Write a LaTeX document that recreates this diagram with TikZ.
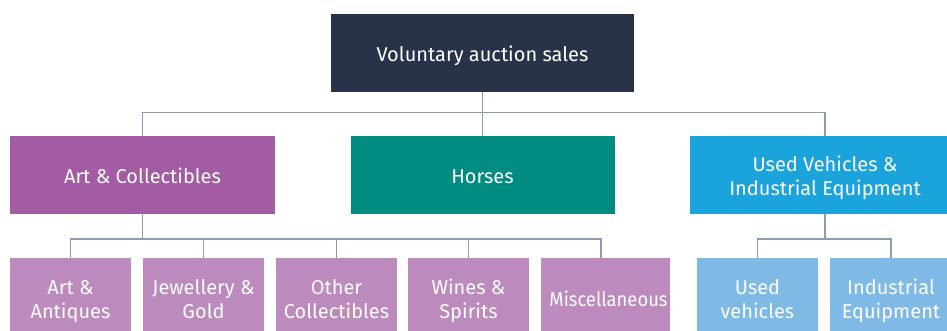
\documentclass[tikz,border=0pt]{standalone}
\usepackage{fontspec}
\usepackage{graphicx}
\setmainfont{Fira Sans}
\definecolor{navy}{HTML}{283249}
\definecolor{artc}{HTML}{A35BA3}
\definecolor{horsec}{HTML}{008C80}
\definecolor{vehc}{HTML}{1BA3DC}
\definecolor{lartc}{HTML}{BD8ABD}
\definecolor{lvehc}{HTML}{7FB9E5}
\definecolor{linec}{HTML}{8D9DB1}
\begin{document}
\begin{tikzpicture}[x=1pt,y=-1pt,
  box/.style={rectangle,inner sep=0pt,text=white,align=center,
    font=\fontsize{20}{24}\selectfont,minimum height=78pt},
  oneline/.style={text height=18pt,text depth=0pt},
  twoline/.style={text height=42pt,text depth=0pt},
  conn/.style={draw=linec,line width=1.5pt}]
\useasboundingbox (0,0) rectangle (947,331);
\clip (0,0) rectangle (947,331);
\node[box,oneline,fill=navy,minimum width=303pt] (top) at (482.5,53) {Voluntary auction sales};
\node[box,oneline,fill=artc,minimum width=265pt] (art) at (142.5,175) {Art \& Collectibles};
\node[box,oneline,fill=horsec,minimum width=264pt] (horses) at (482.5,175) {Horses};
\node[box,twoline,fill=vehc,minimum width=270pt] (veh) at (825,175) {Used Vehicles \&\\Industrial Equipment};
\node[box,twoline,fill=lartc,minimum width=121pt] (antiques) at (70.5,297) {Art \&\\Antiques};
\node[box,twoline,fill=lartc,minimum width=121pt] (jewel) at (203.5,297) {Jewellery \&\\Gold};
\node[box,twoline,fill=lartc,minimum width=121pt] (other) at (336.5,297) {Other\\Collectibles};
\node[box,twoline,fill=lartc,minimum width=121pt] (wines) at (468.5,297) {Wines \&\\Spirits};
\node[box,oneline,fill=lartc,minimum width=129pt] (misc) at (605.5,297) {\makebox[0pt]{\hspace*{6pt}\scalebox{0.92}[1]{Miscellaneous}}};
\node[box,twoline,fill=lvehc,minimum width=121pt] (usedv) at (757.5,297) {Used\\vehicles};
\node[box,twoline,fill=lvehc,minimum width=122pt] (indeq) at (891,297) {Industrial\\Equipment};
\coordinate (b1) at (0,112.5);
\coordinate (b2) at (0,239);
\draw[conn] (top.south) -- (top.south |- b1) -| (art.north);
\draw[conn] (top.south) -- (top.south |- b1) -| (veh.north);
\draw[conn] (top.south) -- (horses.north);
\foreach \n in {antiques,jewel,other,wines}
  \draw[conn] (art.south) -- (art.south |- b2) -| (\n.north);
\draw[conn] (art.south) -- (art.south |- b2) -| ([xshift=60pt]misc.north west);
\foreach \n in {usedv,indeq}
  \draw[conn] (veh.south) -- (veh.south |- b2) -| (\n.north);
\end{tikzpicture}
\end{document}
